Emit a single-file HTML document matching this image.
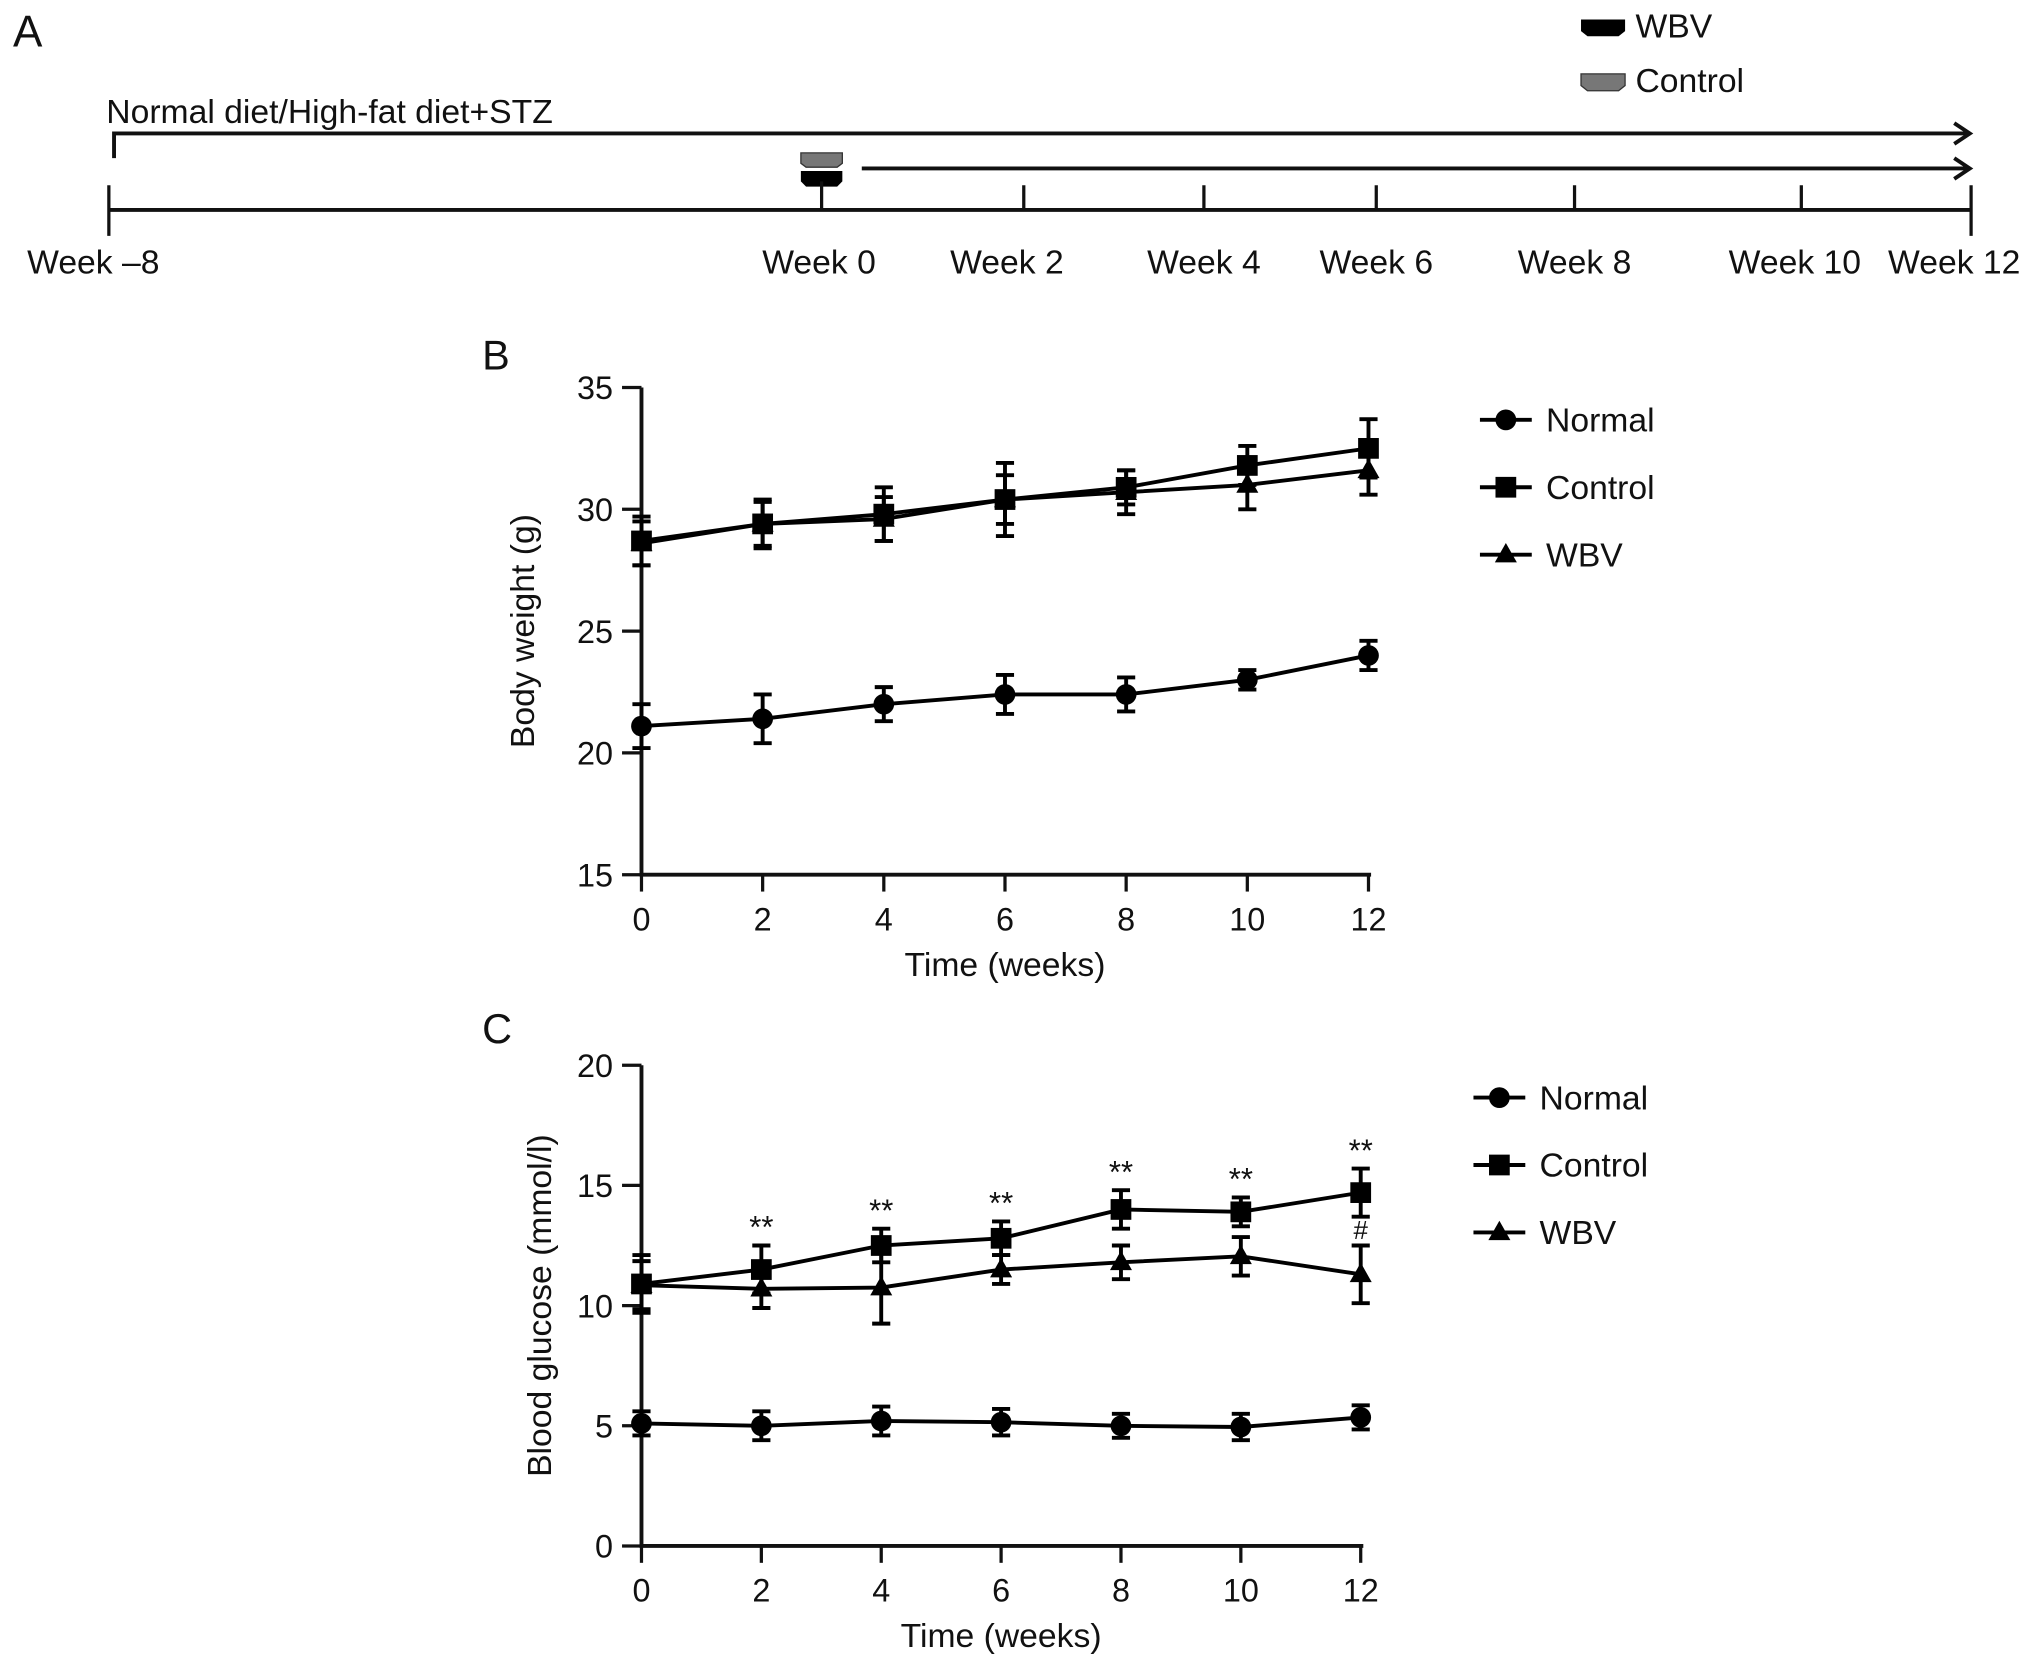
<!DOCTYPE html>
<html><head><meta charset="utf-8"><style>
html,body{margin:0;padding:0;background:#fff;}
svg{display:block;font-family:"Liberation Sans",Arial,sans-serif;}
</style></head><body>
<svg id="fig" width="2032" height="1670" viewBox="0 0 1568 1288.7" preserveAspectRatio="none">
<g id="panelA" stroke="#111" fill="none" stroke-width="3">
  <text x="10" y="36" font-size="34" fill="#111" stroke="none">A</text>
  <path d="M1220,15 h34 v9 l-5,4 h-24 l-5,-4z" fill="#000" stroke="none"/>
  <text x="1262" y="29" font-size="26" fill="#111" stroke="none">WBV</text>
  <path d="M1220,57 h34 v9 l-5,4 h-24 l-5,-4z" fill="#777" stroke="#333" stroke-width="1"/>
  <text x="1262" y="71" font-size="26" fill="#111" stroke="none">Control</text>
  <text x="82" y="95" font-size="26" fill="#111" stroke="none">Normal diet/High-fat diet+STZ</text>
  <path d="M88,122 V103 H1519"/>
  <path d="M1508,95 L1520,103 L1508,111"/>
  <path d="M665,130 H1519"/>
  <path d="M1508,122 L1520,130 L1508,138"/>
  <path d="M618,118 h32 v8 l-4,3 h-24 l-4,-3z" fill="#777" stroke="#333" stroke-width="1"/>
  <path d="M618,132 h32 v8 l-4,4 h-24 l-4,-4z" fill="#000" stroke="none"/>
  <path d="M84,162 H1521"/>
  <path d="M84,143 V182 M1521,143 V182 M634,140 V162 M790,143 V162 M929,143 V162 M1062,143 V162 M1215,143 V162 M1390,143 V162" stroke-width="2.5"/>
  <g font-size="26" fill="#111" stroke="none" text-anchor="middle">
    <text x="72" y="211">Week –8</text><text x="632" y="211">Week 0</text><text x="777" y="211">Week 2</text>
    <text x="929" y="211">Week 4</text><text x="1062" y="211">Week 6</text><text x="1215" y="211">Week 8</text>
    <text x="1385" y="211">Week 10</text><text x="1508" y="211">Week 12</text>
  </g>
</g>
<g id="panelB"></g>
<g id="panelC"></g>
</svg>
<script>
const weeks = [0,2,4,6,8,10,12];
const bwNormal = [21.1,21.4,22.0,22.4,22.4,23.0,24.0];
const bwNormalErr = [0.9,1.0,0.7,0.8,0.7,0.4,0.6];
const bwControl = [28.7,29.4,29.8,30.4,30.9,31.8,32.5];
const bwControlErr = [1.0,1.0,1.1,1.5,0.7,0.8,1.2];
const bwWBV = [28.6,29.4,29.6,30.4,30.7,31.0,31.6];
const bwWBVErr = [0.9,0.9,0.9,1.0,0.9,1.0,1.0];
const bwTicks = [15,20,25,30,35];
const bgNormal = [5.1,5.0,5.2,5.15,5.0,4.95,5.35];
const bgNormalErr = [0.5,0.6,0.6,0.55,0.5,0.55,0.5];
const bgControl = [10.9,11.5,12.5,12.8,14.0,13.9,14.7];
const bgControlErr = [1.2,1.0,0.7,0.7,0.8,0.6,1.0];
const bgWBV = [10.85,10.7,10.75,11.5,11.8,12.05,11.3];
const bgWBVErr = [1.0,0.8,1.5,0.6,0.7,0.8,1.2];
const bgTicks = [0,5,10,15,20];
const bgStars = ["","**","**","**","**","**","**"];
const bgHash = ["","","","","","","#"];
const xTicks = [0,2,4,6,8,10,12];

const NS="http://www.w3.org/2000/svg";
function mk(parent,tag,attrs,text){const e=document.createElementNS(NS,tag);for(const k in attrs)e.setAttribute(k,attrs[k]);if(text!==undefined)e.textContent=text;parent.appendChild(e);return e;}

function marker(g,type,cx,cy){
  let e;
  if(type==='circle') e=mk(g,'circle',{cx:cx,cy:cy,r:8,fill:'#000'});
  else if(type==='square') e=mk(g,'rect',{x:cx-8,y:cy-8,width:16,height:16,fill:'#000'});
  else e=mk(g,'path',{d:`M${cx},${cy-9} L${cx+8.5},${cy+6} L${cx-8.5},${cy+6}Z`,fill:'#000'});
  return e;
}

function chart(gid,cfg){
  const g=document.getElementById(gid);
  const X=v=>cfg.x0+(v-0)/12*(cfg.x1-cfg.x0);
  const Y=v=>cfg.yb+(v-cfg.ymin)/(cfg.ymax-cfg.ymin)*(cfg.yt-cfg.yb);
  const lab=mk(g,'text',{x:cfg.labX,y:cfg.labY,'font-size':32,fill:'#111'},cfg.label);
  
  
  const ax=mk(g,'path',{d:`M${cfg.x0},${cfg.yt} V${cfg.yb} H${cfg.x1+2}`,stroke:'#111','stroke-width':3,fill:'none'});
  
  
  cfg.yticks.forEach(t=>{
    mk(g,'line',{x1:cfg.x0-15,x2:cfg.x0,y1:Y(t),y2:Y(t),stroke:'#111','stroke-width':2.5});
    const tl=mk(g,'text',{x:cfg.x0-22,y:Y(t)+9,'font-size':25,'text-anchor':'end',fill:'#111'},String(t));
    
    
  });
  xTicks.forEach(t=>{
    mk(g,'line',{x1:X(t),x2:X(t),y1:cfg.yb,y2:cfg.yb+13,stroke:'#111','stroke-width':2.5});
    const tl=mk(g,'text',{x:X(t),y:cfg.yb+43,'font-size':25,'text-anchor':'middle',fill:'#111'},String(t));
    
    
  });
  const xt=mk(g,'text',{x:(cfg.x0+cfg.x1)/2,y:cfg.yb+78,'font-size':26,'text-anchor':'middle',fill:'#111'},'Time (weeks)');
  
  
  const yc=(cfg.yt+cfg.yb)/2+cfg.ytOff;
  const yt=mk(g,'text',{x:cfg.ytX,y:yc,'font-size':26,'text-anchor':'middle',fill:'#111',transform:`rotate(-90 ${cfg.ytX} ${yc})`},cfg.ytitle);
  
  
  cfg.series.forEach(s=>{
    const sg=mk(g,'g',{});
    
    
    const pts=weeks.map((w,i)=>X(w)+','+Y(s.v[i])).join(' ');
    mk(sg,'polyline',{points:pts,fill:'none',stroke:'#000','stroke-width':3});
    weeks.forEach((w,i)=>{
      const x=X(w),hi=Y(s.v[i]+s.e[i]),lo=Y(s.v[i]-s.e[i]);
      mk(sg,'path',{d:`M${x},${hi} V${lo} M${x-7},${hi} H${x+7} M${x-7},${lo} H${x+7}`,stroke:'#000','stroke-width':3,fill:'none'});
      const m=marker(sg,s.m,x,Y(s.v[i]));
      
      
    });
  });
  cfg.series.forEach((s,i)=>{
    const ly=cfg.legY+i*52;
    const lg=mk(g,'g',{});
    
    
    mk(lg,'line',{x1:cfg.legX,x2:cfg.legX+40,y1:ly,y2:ly,stroke:'#000','stroke-width':3});
    marker(lg,s.m,cfg.legX+20,ly);
    mk(lg,'text',{x:cfg.legX+51,y:ly+9,'font-size':26,fill:'#111'},s.name);
  });
  return {X,Y,g};
}

chart('panelB',{label:'B',labX:372,labY:285,x0:495,x1:1056,yt:299,yb:675,ymin:15,ymax:35,yticks:bwTicks,
  ytitle:'Body weight (g)',ytX:412,ytOff:0,legX:1142,legY:324,
  series:[{name:'Normal',m:'circle',v:bwNormal,e:bwNormalErr},{name:'Control',m:'square',v:bwControl,e:bwControlErr},{name:'WBV',m:'triangle',v:bwWBV,e:bwWBVErr}]});

const c=chart('panelC',{label:'C',labX:372,labY:805,x0:495,x1:1050,yt:822,yb:1193,ymin:0,ymax:20,yticks:bgTicks,
  ytitle:'Blood glucose (mmol/l)',ytX:425,ytOff:0,legX:1137,legY:847,
  series:[{name:'Normal',m:'circle',v:bgNormal,e:bgNormalErr},{name:'Control',m:'square',v:bgControl,e:bgControlErr},{name:'WBV',m:'triangle',v:bgWBV,e:bgWBVErr}]});
weeks.forEach((w,i)=>{
  if(bgStars[i]){
    const t=mk(c.g,'text',{x:c.X(w),y:c.Y(bgControl[i]+bgControlErr[i])-6,'font-size':24,'text-anchor':'middle',fill:'#111'},bgStars[i]);
    
    
  }
  if(bgHash[i]){
    const t=mk(c.g,'text',{x:c.X(w),y:c.Y(bgWBV[i]+bgWBVErr[i])-5,'font-size':20,'text-anchor':'middle',fill:'#111'},bgHash[i]);
    
    
  }
});
</script>
</body></html>
